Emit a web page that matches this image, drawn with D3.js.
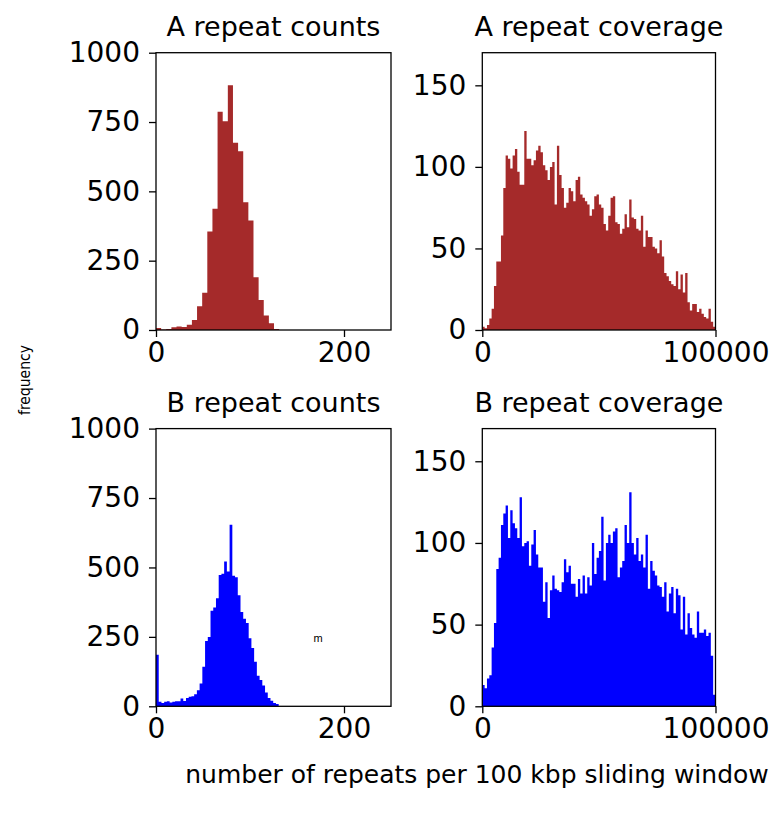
<!DOCTYPE html>
<html>
<head>
<meta charset="utf-8">
<script src="https://cdn.jsdelivr.net/npm/d3@7"></script>
<style>
  html, body { margin: 0; padding: 0; background: #fff; }
  svg { display: block; }
  text { font-family: "DejaVu Sans", sans-serif; fill: #000; }
</style>
</head>
<body>
<svg id="chart" width="772" height="817"></svg>
<script>
// ---------- DATA ----------
const titles = ["A repeat counts", "A repeat coverage", "B repeat counts", "B repeat coverage"];

// A repeat counts histogram (24 equal bins spanning 0..131)
const aCountsRange = [0, 131];
const aCounts = [7, 2, 4, 10, 13, 11, 19, 36, 86, 134, 355, 437, 787, 753, 883, 675, 645, 461, 395, 190, 108, 52, 24, 4];

// B repeat counts histogram (45 equal bins spanning 0..130.5)
const bCountsRange = [0, 130.5];
const bCounts = [186, 16, 12, 16, 18, 14, 16, 18, 18, 28, 19, 30, 34, 36, 43, 58, 82, 142, 235, 250, 344, 356, 389, 473, 477, 521, 485,
                 654, 470, 465, 400, 340, 315, 300, 245, 210, 160, 110, 95, 75, 50, 30, 20, 12, 8];

// A repeat coverage histogram (100 equal bins spanning 0..100000)
const aCoverageRange = [0, 100000];
const aCoverage = [2, 1, 3, 7, 13, 27, 42, 42, 58, 87, 107, 105, 99, 107, 111, 97, 89, 89, 122, 105,
                   105, 101, 104, 110, 113, 109, 101, 98, 92, 100, 103, 77, 113, 95, 87, 75, 78, 87, 85, 79,
                   92, 94, 83, 81, 79, 77, 70, 74, 82, 83, 77, 75, 65, 61, 70, 81, 82, 66, 65, 59,
                   62, 71, 63, 80, 69, 68, 62, 61, 70, 51, 61, 57, 57, 51, 50, 47, 55, 45, 35, 33,
                   30, 28, 27, 36, 25, 34, 23, 35, 17, 12, 16, 16, 11, 13, 10, 8, 7, 13, 5, 2];

// B repeat coverage histogram (100 equal bins spanning 0..100000)
const bCoverageRange = [0, 100000];
const bCoverage = [13, 11, 17, 19, 36, 51, 84, 91, 111, 118, 123, 103, 120, 112, 109, 103, 128, 98, 100, 101,
                   86, 99, 108, 93, 85, 85, 64, 76, 54, 71, 80, 72, 71, 70, 76, 90, 82, 86, 75, 75,
                   67, 78, 69, 80, 69, 79, 74, 100, 81, 91, 95, 116, 77, 100, 105, 100, 107, 109, 79, 85,
                   89, 111, 100, 131, 100, 93, 103, 89, 93, 85, 105, 72, 89, 83, 80, 74, 73, 67, 76, 58,
                   69, 73, 57, 72, 68, 47, 67, 44, 57, 48, 44, 42, 58, 45, 45, 47, 43, 45, 31, 7];

// Axis domains and ticks
const countsXDomain = [0, 250];
const countsXTicks = [0, 200];
const countsYDomain = [0, 1000];
const countsYTicks = [0, 250, 500, 750, 1000];
const coverageXDomain = [0, 100000];
const coverageXTicks = [0, 100000];
const coverageYDomain = [0, 170];
const coverageYTicks = [0, 50, 100, 150];

const xAxisLabel = "number of repeats per 100 kbp sliding window";
const yAxisLabel = "frequency";
const strayLabel = "m";

// ---------- LAYOUT / STYLE ----------
const colA = "#a52a2a", colB = "#0000ff";
const panels = [
  { title: titles[0], data: aCounts, range: aCountsRange, xd: countsXDomain, xt: countsXTicks, yd: countsYDomain, yt: countsYTicks, color: colA, x0: 156, x1: 391, y0: 52.7, y1: 330 },
  { title: titles[1], data: aCoverage, range: aCoverageRange, xd: coverageXDomain, xt: coverageXTicks, yd: coverageYDomain, yt: coverageYTicks, color: colA, x0: 482.3, x1: 715.5, y0: 52.7, y1: 330 },
  { title: titles[2], data: bCounts, range: bCountsRange, xd: countsXDomain, xt: countsXTicks, yd: countsYDomain, yt: countsYTicks, color: colB, x0: 156, x1: 391, y0: 428.6, y1: 706.3 },
  { title: titles[3], data: bCoverage, range: bCoverageRange, xd: coverageXDomain, xt: coverageXTicks, yd: coverageYDomain, yt: coverageYTicks, color: colB, x0: 482.3, x1: 715.5, y0: 428.6, y1: 706.3 }
];

const svg = d3.select("#chart");
const tickFont = 28, titleFont = 27, tickLen = 7, lw = 1.3;

panels.forEach(p => {
  const x = d3.scaleLinear().domain(p.xd).range([p.x0, p.x1]);
  const y = d3.scaleLinear().domain(p.yd).range([p.y1, p.y0]);
  const n = p.data.length;
  const bw = (p.range[1] - p.range[0]) / n;
  const bins = p.data.map((v, i) => ({ a: p.range[0] + i * bw, b: p.range[0] + (i + 1) * bw, v }));

  const g = svg.append("g");
  // histogram as a single step outline (gapless fill, like matplotlib's rendering)
  const area = d3.path();
  area.moveTo(x(bins[0].a), y(0));
  bins.forEach(d => { area.lineTo(x(d.a), y(d.v)); area.lineTo(x(d.b), y(d.v)); });
  area.lineTo(x(bins[n - 1].b), y(0));
  area.closePath();
  g.append("path").attr("d", area.toString()).attr("fill", p.color);

  // frame
  g.append("rect")
    .attr("x", p.x0).attr("y", p.y0)
    .attr("width", p.x1 - p.x0).attr("height", p.y1 - p.y0)
    .attr("fill", "none").attr("stroke", "#000").attr("stroke-width", lw);

  // y axis
  const ya = d3.axisLeft(y).tickValues(p.yt).tickSize(tickLen).tickPadding(9).tickFormat(d3.format("d"));
  const yg = g.append("g").attr("transform", `translate(${p.x0},0)`).call(ya);
  yg.select(".domain").remove();
  yg.selectAll(".tick line").attr("stroke", "#000").attr("stroke-width", lw);
  yg.selectAll(".tick text").attr("font-size", tickFont).attr("font-family", "DejaVu Sans").attr("fill", "#000");

  // x axis
  const xa = d3.axisBottom(x).tickValues(p.xt).tickSize(tickLen).tickPadding(5).tickFormat(d3.format("d"));
  const xg = g.append("g").attr("transform", `translate(0,${p.y1})`).call(xa);
  xg.select(".domain").remove();
  xg.selectAll(".tick line").attr("stroke", "#000").attr("stroke-width", lw);
  xg.selectAll(".tick text").attr("font-size", tickFont).attr("font-family", "DejaVu Sans").attr("fill", "#000");

  // title
  g.append("text")
    .attr("x", (p.x0 + p.x1) / 2).attr("y", p.y0 - 16.5)
    .attr("text-anchor", "middle").attr("font-size", titleFont)
    .text(p.title);
});

// shared axis labels
svg.append("text")
  .attr("x", 477).attr("y", 783)
  .attr("text-anchor", "middle").attr("font-size", 25)
  .text(xAxisLabel);

svg.append("text")
  .attr("transform", "translate(30,380) rotate(-90)")
  .attr("text-anchor", "middle").attr("font-size", 15.5)
  .style("font-family", "'DejaVu Sans Condensed', 'Liberation Sans Narrow', 'DejaVu Sans', sans-serif")
  .style("font-stretch", "condensed")
  .text(yAxisLabel);

svg.append("text")
  .attr("x", 318).attr("y", 642)
  .attr("text-anchor", "middle").attr("font-size", 11)
  .style("font-family", "'Liberation Sans', Arial, sans-serif")
  .text(strayLabel);
</script>
</body>
</html>
